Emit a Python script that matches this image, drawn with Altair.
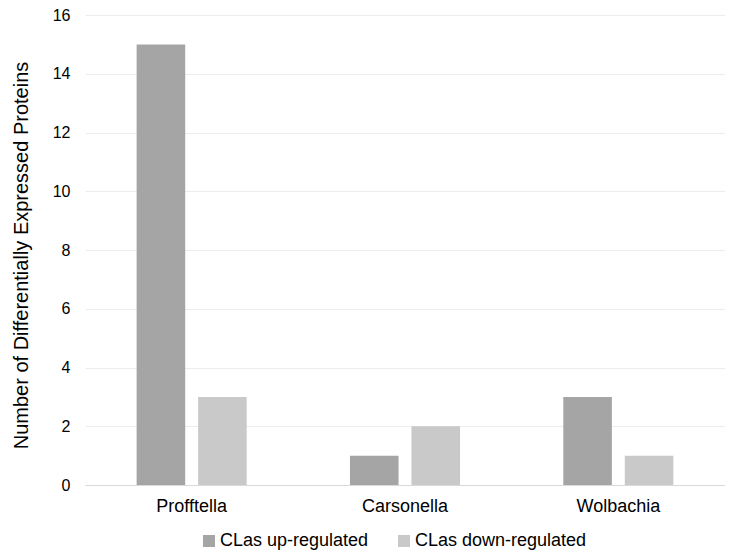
import altair as alt
import pandas as pd

categories = ["Profftella", "Carsonella", "Wolbachia"]
series = ["CLas up-regulated", "CLas down-regulated"]
up_values = [15, 1, 3]
down_values = [3, 2, 1]
colors = ["#a5a5a5", "#c9c9c9"]

rows = []
for c, u, d in zip(categories, up_values, down_values):
    rows.append({"organism": c, "series": series[0], "value": u})
    rows.append({"organism": c, "series": series[1], "value": d})
df = pd.DataFrame(rows)

FONT = "Liberation Sans"

chart = alt.Chart(df).mark_bar().encode(
    x=alt.X("organism:N", sort=categories,
            scale=alt.Scale(paddingInner=0.484, paddingOuter=0.242),
            axis=alt.Axis(title=None, labelAngle=0, labelFontSize=18, labelPadding=12,
                          ticks=False, domainColor="#d9d9d9", labelColor="#000000",
                          labelFont=FONT, grid=False)),
    xOffset=alt.XOffset("series:N", sort=series,
                        scale=alt.Scale(paddingInner=0.21, paddingOuter=0)),
    y=alt.Y("value:Q", scale=alt.Scale(domain=[0, 16]),
            axis=alt.Axis(title="Number of Differentially Expressed Proteins",
                          values=list(range(0, 17, 2)), labelFontSize=16,
                          labelPadding=15, titleFontSize=20, titleFontWeight="normal",
                          titlePadding=21, titleY=240, ticks=False, domain=False,
                          gridColor="#ececec", labelColor="#000000", titleColor="#000000",
                          labelFont=FONT, titleFont=FONT)),
    color=alt.Color("series:N", sort=series,
                    scale=alt.Scale(domain=series, range=colors),
                    legend=alt.Legend(title=None, orient="none", direction="horizontal",
                                      legendX=115, legendY=517, symbolType="square",
                                      symbolSize=144, symbolStrokeWidth=0,
                                      labelFontSize=18, labelFont=FONT, labelColor="#000000",
                                      labelLimit=400, columnPadding=26, labelOffset=2)),
).properties(
    width=640, height=470,
    autosize=alt.AutoSizeParams(type="none"),
    padding={"left": 77, "top": 7, "right": 0, "bottom": 67},
).configure_view(stroke=None)

chart.save("out.html", embed_options={"renderer": "svg", "actions": False})
